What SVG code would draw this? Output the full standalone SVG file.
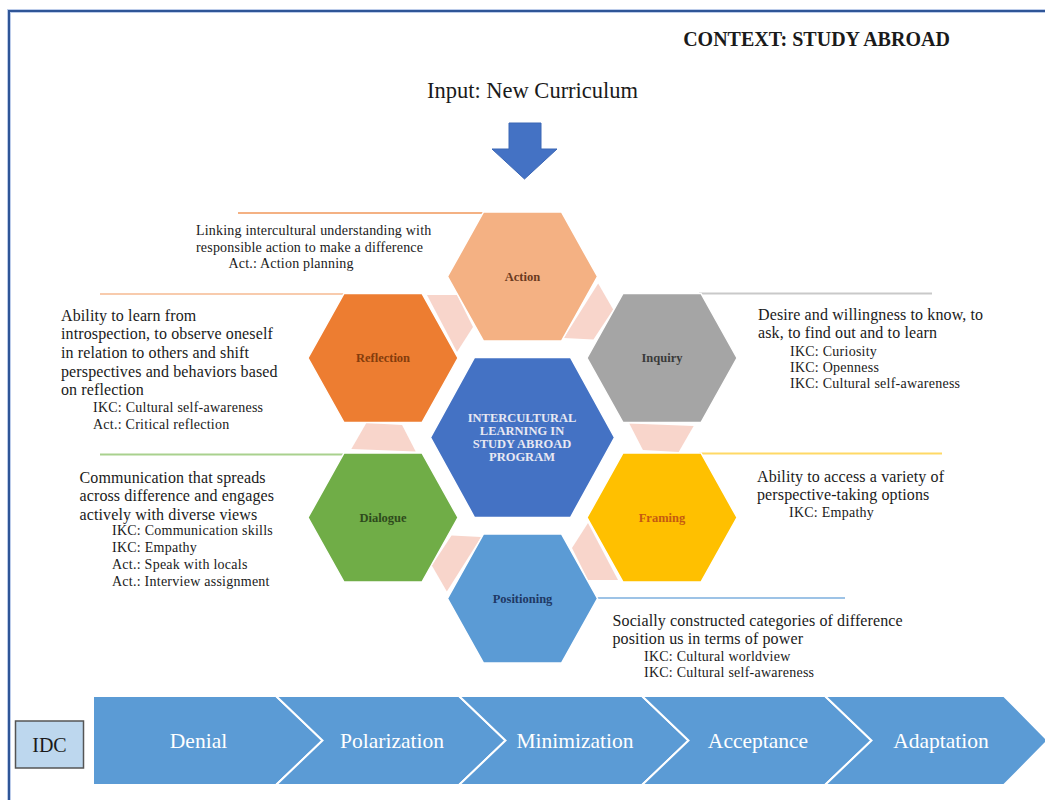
<svg xmlns="http://www.w3.org/2000/svg" xmlns:xlink="http://www.w3.org/1999/xlink" width="1045" height="800" viewBox="0 0 1045 800">
  <style>
    .t { font-family: "Liberation Serif", "Times New Roman", serif; fill: #1a1a1a; }
    .main { font-size: 16px; letter-spacing: 0.12px; }
    .sub { font-size: 14px; letter-spacing: 0.25px; }
    .small { font-size: 14px; letter-spacing: 0.2px; }
    .hexlbl { font-family: "Liberation Serif", "Times New Roman", serif; font-size: 12.5px; font-weight: bold; text-anchor: middle; }
    .stage { font-family: "Liberation Serif", "Times New Roman", serif; font-size: 21.5px; fill: #ffffff; text-anchor: middle; }
    .hex { stroke: #ffffff; stroke-width: 1.5; }
    .spacer { fill: #F8D5CB; }
    .chev { fill: #5B9BD5; stroke: #ffffff; stroke-width: 2; stroke-linejoin: miter; }
  </style>
  <defs>
    <polygon id="hex" points="-75,0 -39,-64.5 39,-64.5 75,0 39,64.5 -39,64.5"/>
    <polygon id="spacer" points="427,295 457,295 473,327 457,352"/>
  </defs>

  <rect x="0" y="0" width="1045" height="800" fill="#ffffff"/>

  <!-- page frame -->
  <path d="M9,800 V11 H1045" fill="none" stroke="#8FAADC" stroke-width="4" opacity="0.6"/>
  <path d="M9,800 V11 H1045" fill="none" stroke="#2F5597" stroke-width="2"/>

  <!-- headings -->
  <text class="t" x="816.5" y="46" font-size="20" font-weight="bold" text-anchor="middle">CONTEXT: STUDY ABROAD</text>
  <text class="t" x="532.5" y="97.5" font-size="22.5" text-anchor="middle">Input: New Curriculum</text>

  <!-- input arrow -->
  <polygon points="509,123 541,123 541,149 557,149 524.5,179 492,149 509,149" fill="#4472C4" stroke="#3A66B5" stroke-width="1"/>

  <!-- connectors: spacer pieces between the outer hexagons and the guide rules -->
  <g id="connectors">
    <use xlink:href="#spacer" class="spacer"/>
    <use xlink:href="#spacer" class="spacer" transform="rotate(60 522.5 437.5)"/>
    <use xlink:href="#spacer" class="spacer" transform="rotate(120 522.5 437.5)"/>
    <use xlink:href="#spacer" class="spacer" transform="rotate(180 522.5 437.5)"/>
    <use xlink:href="#spacer" class="spacer" transform="rotate(240 522.5 437.5)"/>
    <use xlink:href="#spacer" class="spacer" transform="rotate(300 522.5 437.5)"/>

    <line x1="238" y1="213" x2="484" y2="213" stroke="#F4B183" stroke-width="2"/>
    <line x1="100" y1="294" x2="345" y2="294" stroke="#F8CBAD" stroke-width="2"/>
    <line x1="699" y1="293.5" x2="932" y2="293.5" stroke="#C9C9C9" stroke-width="2"/>
    <line x1="699" y1="453.5" x2="942" y2="453.5" stroke="#FFD966" stroke-width="2"/>
    <line x1="100" y1="454.5" x2="345" y2="454.5" stroke="#A9D18E" stroke-width="2"/>
    <line x1="597" y1="598" x2="845" y2="598" stroke="#9DC3E6" stroke-width="2"/>
  </g>

  <!-- centre -->
  <g id="node-center">
    <polygon points="430.5,437.5 474.5,357.5 570.5,357.5 614.5,437.5 570.5,517.5 474.5,517.5" fill="#4472C4" stroke="#ffffff" stroke-width="1.5"/>
    <g font-family="Liberation Serif, Times New Roman, serif" font-size="12.5" font-weight="bold" fill="#E8E8F2" text-anchor="middle">
      <text x="522" y="422">INTERCULTURAL</text>
      <text x="522" y="435">LEARNING IN</text>
      <text x="522" y="448">STUDY ABROAD</text>
      <text x="522" y="461">PROGRAM</text>
    </g>
  </g>

  <!-- Action -->
  <g id="node-action">
    <use xlink:href="#hex" class="hex" fill="#F4B183" transform="translate(522.5 276.5)"/>
    <text class="hexlbl" x="522.5" y="281" fill="#6B3A1E">Action</text>
    <text class="t small" x="196" y="235">Linking intercultural understanding with</text>
    <text class="t small" x="196" y="252">responsible action to make a difference</text>
    <text class="t small" x="228.5" y="267.5">Act.: Action planning</text>
  </g>

  <!-- Reflection -->
  <g id="node-reflection">
    <use xlink:href="#hex" class="hex" fill="#ED7D31" transform="translate(383 358)"/>
    <text class="hexlbl" x="383" y="362" fill="#843C0C">Reflection</text>
    <text class="t main" x="61" y="320.5">Ability to learn from</text>
    <text class="t main" x="61" y="339">introspection, to observe oneself</text>
    <text class="t main" x="61" y="358">in relation to others and shift</text>
    <text class="t main" x="61" y="376.5">perspectives and behaviors based</text>
    <text class="t main" x="61" y="395">on reflection</text>
    <text class="t sub" x="93" y="412">IKC: Cultural self-awareness</text>
    <text class="t sub" x="93" y="428.5">Act.: Critical reflection</text>
  </g>

  <!-- Inquiry -->
  <g id="node-inquiry">
    <use xlink:href="#hex" class="hex" fill="#A5A5A5" transform="translate(662 358)"/>
    <text class="hexlbl" x="662" y="362" fill="#3A3A3A">Inquiry</text>
    <text class="t main" x="758" y="319.5">Desire and willingness to know, to</text>
    <text class="t main" x="758" y="338">ask, to find out and to learn</text>
    <text class="t sub" x="790" y="355.5">IKC: Curiosity</text>
    <text class="t sub" x="790" y="372">IKC: Openness</text>
    <text class="t sub" x="790" y="388">IKC: Cultural self-awareness</text>
  </g>

  <!-- Framing -->
  <g id="node-framing">
    <use xlink:href="#hex" class="hex" fill="#FFC000" transform="translate(662 517.5)"/>
    <text class="hexlbl" x="662" y="522" fill="#C55A11">Framing</text>
    <text class="t main" x="757" y="481.5">Ability to access a variety of</text>
    <text class="t main" x="757" y="499.5">perspective-taking options</text>
    <text class="t sub" x="789" y="517">IKC: Empathy</text>
  </g>

  <!-- Positioning -->
  <g id="node-positioning">
    <use xlink:href="#hex" class="hex" fill="#5B9BD5" transform="translate(522.5 598.5)"/>
    <text class="hexlbl" x="522.5" y="603" fill="#1F3864">Positioning</text>
    <text class="t main" x="612.5" y="625.5">Socially constructed categories of difference</text>
    <text class="t main" x="612.5" y="643.5">position us in terms of power</text>
    <text class="t sub" x="644" y="661">IKC: Cultural worldview</text>
    <text class="t sub" x="644" y="676.5">IKC: Cultural self-awareness</text>
  </g>

  <!-- Dialogue -->
  <g id="node-dialogue">
    <use xlink:href="#hex" class="hex" fill="#70AD47" transform="translate(383 517.5)"/>
    <text class="hexlbl" x="383" y="522" fill="#2E4A1C">Dialogue</text>
    <text class="t main" x="79.5" y="482.5">Communication that spreads</text>
    <text class="t main" x="79.5" y="500.5">across difference and engages</text>
    <text class="t main" x="79.5" y="519.5">actively with diverse views</text>
    <text class="t sub" x="112" y="535">IKC: Communication skills</text>
    <text class="t sub" x="112" y="551.5">IKC: Empathy</text>
    <text class="t sub" x="112" y="568.5">Act.: Speak with locals</text>
    <text class="t sub" x="112" y="585.5">Act.: Interview assignment</text>
  </g>

  <!-- IDC stage band -->
  <g id="node-idc">
    <rect x="15.5" y="721" width="68" height="47" fill="#BDD7EE" stroke="#555555" stroke-width="1.5"/>
    <text class="t" x="49.5" y="751.5" font-size="20" text-anchor="middle">IDC</text>
  </g>
  <g id="node-denial">
    <polygon class="chev" points="93,696 276,696 322.5,740.5 276,785 93,785"/>
    <text class="stage" x="198.5" y="748">Denial</text>
  </g>
  <g id="node-polarization">
    <polygon class="chev" points="276,696 459,696 505.5,740.5 459,785 276,785 322.5,740.5"/>
    <text class="stage" x="392" y="748">Polarization</text>
  </g>
  <g id="node-minimization">
    <polygon class="chev" points="459,696 642,696 688.5,740.5 642,785 459,785 505.5,740.5"/>
    <text class="stage" x="575" y="748">Minimization</text>
  </g>
  <g id="node-acceptance">
    <polygon class="chev" points="642,696 825,696 871.5,740.5 825,785 642,785 688.5,740.5"/>
    <text class="stage" x="758" y="748">Acceptance</text>
  </g>
  <g id="node-adaptation">
    <polygon class="chev" points="825,696 1004,696 1048,740.5 1004,785 825,785 871.5,740.5"/>
    <text class="stage" x="941" y="748">Adaptation</text>
  </g>
</svg>
